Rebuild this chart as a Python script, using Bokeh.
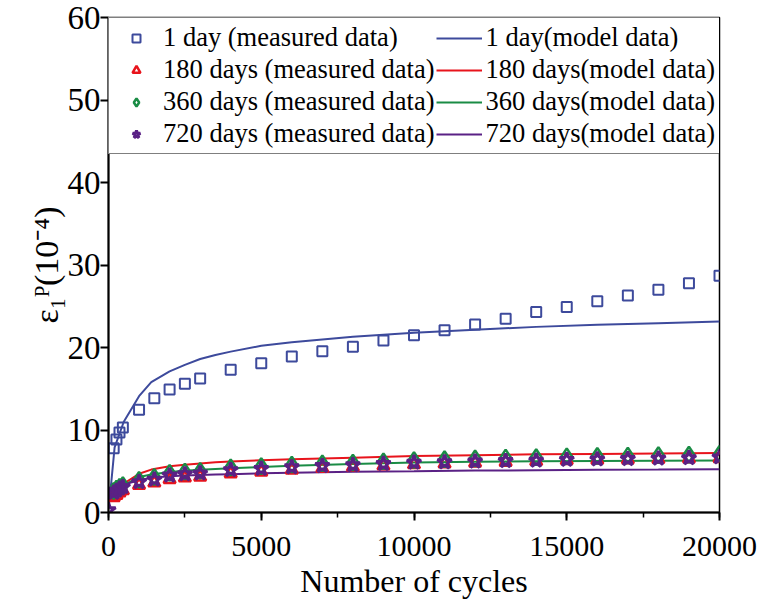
from bokeh.plotting import figure
from bokeh.models import Legend, LegendItem, SingleIntervalTicker, Range1d
from bokeh.embed import file_html
from bokeh.resources import INLINE

# ---------------- data ----------------
meas_cycles = [170, 260, 360, 470, 1000, 1500, 2000, 2500, 3000, 4000, 5000, 6000, 7000,
               8000, 9000, 10000, 11000, 12000, 13000, 14000, 15000, 16000, 17000, 18000,
               19000, 20000]
meas_1day = [7.8, 8.85, 9.7, 10.3, 12.45, 13.85, 14.9, 15.6, 16.25, 17.3, 18.1, 18.9, 19.55,
             20.1, 20.85, 21.5, 22.1, 22.8, 23.5, 24.3, 24.9, 25.6, 26.3, 27.0, 27.8, 28.7]
meas_180 = [1.8, 2.1, 2.4, 2.65, 3.3, 3.6, 4.0, 4.2, 4.3, 4.7, 4.9, 5.15, 5.35,
            5.5, 5.65, 5.8, 5.9, 6.0, 6.1, 6.2, 6.3, 6.35, 6.4, 6.45, 6.5, 6.55]
meas_360 = [2.6, 2.9, 3.1, 3.3, 3.95, 4.3, 4.8, 4.95, 5.05, 5.45, 5.6, 5.8, 5.95,
            6.05, 6.2, 6.35, 6.45, 6.55, 6.65, 6.7, 6.8, 6.85, 6.9, 6.95, 7.0, 7.1]
star_cycles = [0] + meas_cycles
meas_720 = [0.3, 2.4, 2.65, 2.9, 3.1, 3.7, 4.0, 4.5, 4.65, 4.75, 5.15, 5.3, 5.5, 5.65,
            5.75, 5.9, 6.05, 6.1, 6.2, 6.25, 6.3, 6.4, 6.45, 6.5, 6.55, 6.6, 6.7]

model_cycles = [0, 100, 200, 500, 1000, 1400, 2000, 2500, 3000, 3500, 4000, 5000, 6000,
                8000, 10000, 12000, 14000, 16000, 18000, 20000]
model_1day = [0.5, 4.0, 7.9, 11.0, 14.1, 15.8, 17.1, 17.9, 18.6, 19.1, 19.5, 20.2, 20.65,
              21.3, 21.8, 22.15, 22.5, 22.75, 22.95, 23.15]
model_180 = [1.6, 2.0, 2.4, 3.5, 4.7, 5.2, 5.6, 5.8, 5.95, 6.08, 6.18, 6.33, 6.45,
             6.65, 6.85, 6.95, 7.05, 7.1, 7.15, 7.2]
model_360 = [2.2, 2.4, 2.6, 3.3, 4.3, 4.6, 4.9, 5.05, 5.18, 5.28, 5.36, 5.52, 5.66,
             5.88, 6.05, 6.15, 6.2, 6.25, 6.28, 6.3]
model_720 = [2.0, 2.3, 2.6, 3.4, 3.9, 4.2, 4.4, 4.48, 4.54, 4.6, 4.65, 4.75, 4.83,
             4.95, 5.0, 5.08, 5.12, 5.17, 5.2, 5.25]

meas_labels = ["1 day (measured data)", "180 days (measured data)",
               "360 days (measured data)", "720 days (measured data)"]
model_labels = ["1 day(model data)", "180 days(model data)",
                "360 days(model data)", "720 days(model data)"]

BLUE = "#3D4A9C"
RED = "#E8141C"
GREEN = "#1A8C45"
PURPLE = "#5A2185"
FONT = "Liberation Serif"

p = figure(width=760, height=612, output_backend="svg", toolbar_location=None,
           x_range=Range1d(0, 20000), y_range=Range1d(0, 60),
           min_border_left=108, min_border_right=41, min_border_top=17,
           min_border_bottom=100)
p.background_fill_color = "white"
p.border_fill_color = "white"
p.outline_line_color = "black"
p.outline_line_width = 1.5
p.xgrid.visible = False
p.ygrid.visible = False

# model lines
l1 = p.line(model_cycles, model_1day, line_color=BLUE, line_width=2)
l2 = p.line(model_cycles, model_180, line_color=RED, line_width=2)
l3 = p.line(model_cycles, model_360, line_color=GREEN, line_width=2)
l4 = p.line(model_cycles, model_720, line_color=PURPLE, line_width=2)

# measured markers
s1 = p.scatter(meas_cycles, meas_1day, marker="square", size=10, fill_color=None,
               line_color=BLUE, line_width=2)
s2 = p.scatter(meas_cycles, meas_180, marker="triangle", size=12, fill_color=None,
               line_color=RED, line_width=2.5)
s3 = p.scatter(meas_cycles, meas_360, marker="diamond", size=16, fill_color=None,
               line_color=GREEN, line_width=2.5)
s4 = p.scatter(star_cycles, meas_720, marker="star", size=15, fill_color=None,
               line_color=PURPLE, line_width=3)

# axes
p.xaxis.ticker = SingleIntervalTicker(interval=5000, num_minor_ticks=2)
p.yaxis.ticker = SingleIntervalTicker(interval=10, num_minor_ticks=0)
for ax in (p.xaxis[0], p.yaxis[0]):
    ax.axis_line_color = "black"
    ax.axis_line_width = 2
    ax.major_tick_line_color = "black"
    ax.major_tick_line_width = 2
    ax.minor_tick_line_color = "black"
    ax.minor_tick_line_width = 1.5
    ax.major_tick_in = 0
    ax.major_tick_out = 8
    ax.minor_tick_in = 0
    ax.minor_tick_out = 5
    ax.major_label_text_font = FONT
    ax.major_label_text_color = "black"
    ax.axis_label_text_font = FONT
    ax.axis_label_text_font_style = "normal"
    ax.axis_label_text_color = "black"

p.xaxis.major_label_text_font_size = "30px"
p.yaxis.major_label_text_font_size = "33px"
p.xaxis.major_label_standoff = 16
p.yaxis.major_label_standoff = 0
p.xaxis.axis_label = "Number of cycles"
p.xaxis.axis_label_text_font_size = "32px"
p.xaxis.axis_label_standoff = 4
p.yaxis.axis_label = "ε₁ᴾ(10⁻⁴)"
p.yaxis.axis_label_text_font_size = "34px"
p.yaxis.axis_label_standoff = 0

items = [LegendItem(label=meas_labels[0], renderers=[s1]),
         LegendItem(label=meas_labels[1], renderers=[s2]),
         LegendItem(label=meas_labels[2], renderers=[s3]),
         LegendItem(label=meas_labels[3], renderers=[s4]),
         LegendItem(label=model_labels[0], renderers=[l1]),
         LegendItem(label=model_labels[1], renderers=[l2]),
         LegendItem(label=model_labels[2], renderers=[l3]),
         LegendItem(label=model_labels[3], renderers=[l4])]
legend = Legend(items=items, location=(0, 358), orientation="vertical", ncols=2,
                margin=0, padding=4, spacing=1, glyph_width=46, glyph_height=20,
                label_standoff=4, label_text_font=FONT, label_text_font_size="26.5px",
                label_text_color="black", border_line_color="black",
                border_line_width=1, background_fill_color="white",
                background_fill_alpha=1.0)
p.add_layout(legend, "center")

open("out.html", "w").write(file_html(p, INLINE))
